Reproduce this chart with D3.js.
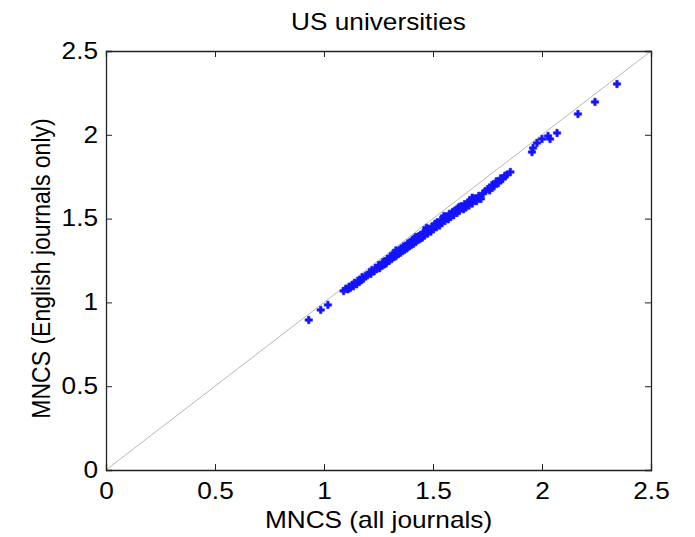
<!DOCTYPE html>
<html>
<head>
<meta charset="utf-8">
<script src="https://cdn.jsdelivr.net/npm/d3@7"></script>
<style>
  body { margin: 0; background: #fff; }
  text { font-family: "Liberation Sans", Arial, sans-serif; fill: #000; }
</style>
</head>
<body>
<div id="chart"></div>
<script>
var title = "US universities";
var xLabel = "MNCS (all journals)";
var yLabel = "MNCS (English journals only)";
var ticks = [0, 0.5, 1, 1.5, 2, 2.5];

// MNCS (all journals)
var mncsAll = [
  0.93, 0.985, 1.018,
  1.09, 1.10, 1.11, 1.115, 1.12, 1.13, 1.135, 1.14, 1.15, 1.155, 1.16, 1.17, 1.175, 1.18, 1.19,
  1.20, 1.21, 1.215, 1.22, 1.23, 1.235, 1.24, 1.25, 1.255, 1.26, 1.27, 1.275, 1.28, 1.285, 1.29,
  1.30, 1.305, 1.31, 1.315, 1.32, 1.325, 1.33, 1.335, 1.34, 1.345, 1.35, 1.355, 1.36, 1.365, 1.37,
  1.375, 1.38, 1.385, 1.39, 1.395, 1.40, 1.405, 1.41, 1.415, 1.42, 1.425, 1.43, 1.435, 1.44, 1.445,
  1.45, 1.455, 1.46, 1.47, 1.475, 1.48, 1.49, 1.495, 1.50, 1.51, 1.515, 1.52, 1.53, 1.535, 1.54,
  1.55, 1.555, 1.56, 1.57, 1.575, 1.58, 1.59, 1.595, 1.60, 1.61, 1.615, 1.62, 1.63, 1.64, 1.645,
  1.65, 1.66, 1.665, 1.67, 1.68, 1.69, 1.70, 1.71, 1.72, 1.73, 1.74, 1.75, 1.76, 1.77, 1.78, 1.79,
  1.80, 1.81, 1.82, 1.83, 1.84, 1.855,
  1.33, 1.42, 1.47, 1.55, 1.62, 1.68,
  1.954, 1.959, 1.977, 2.0, 2.028, 2.037, 2.069, 2.165, 2.243, 2.344
];

// MNCS (English journals only)
var mncsEng = [
  0.895, 0.955, 0.985,
  1.068, 1.082, 1.078, 1.094, 1.086, 1.104, 1.096, 1.116, 1.108, 1.128, 1.122, 1.132, 1.150, 1.140, 1.158,
  1.162, 1.180, 1.170, 1.192, 1.186, 1.204, 1.198, 1.222, 1.204, 1.216, 1.240, 1.226, 1.246, 1.232, 1.258,
  1.250, 1.276, 1.258, 1.284, 1.270, 1.290, 1.276, 1.302, 1.288, 1.312, 1.296, 1.322, 1.306, 1.334, 1.314,
  1.338, 1.322, 1.352, 1.334, 1.360, 1.342, 1.370, 1.350, 1.380, 1.360, 1.388, 1.372, 1.396, 1.378, 1.404,
  1.386, 1.416, 1.398, 1.430, 1.410, 1.440, 1.422, 1.452, 1.436, 1.470, 1.448, 1.478, 1.458, 1.490, 1.474,
  1.500, 1.486, 1.512, 1.496, 1.528, 1.510, 1.540, 1.520, 1.548, 1.534, 1.562, 1.546, 1.574, 1.556, 1.586,
  1.566, 1.596, 1.578, 1.608, 1.590, 1.620, 1.604, 1.636, 1.618, 1.650, 1.664, 1.676, 1.668, 1.700, 1.692, 1.722,
  1.712, 1.740, 1.736, 1.756, 1.762, 1.778,
  1.310, 1.390, 1.445, 1.515, 1.570, 1.625,
  1.897, 1.921, 1.951, 1.975, 1.993, 1.975, 2.011, 2.124, 2.196, 2.303
];

var margin = {top: 51, right: 44, bottom: 67, left: 106};
var width = 695 - margin.left - margin.right,
    height = 537 - margin.top - margin.bottom;

// the original figure is slightly stretched sideways
var stretch = "scale(1.14,1)";

var svg = d3.select("#chart")
    .append("svg")
    .attr("width", 695)
    .attr("height", 537)
    .append("g")
    .attr("transform", "translate(" + margin.left + "," + margin.top + ")");

var xScale = d3.scaleLinear().domain([0, 2.5]).range([0, width]);
var yScale = d3.scaleLinear().domain([0, 2.5]).range([height, 0]);

var fmt = function(d) { return d3.format("")(d); };

// ticks pointing inward, on all four sides
var xAxis = d3.axisBottom(xScale).tickValues(ticks).tickSize(-6).tickPadding(13).tickFormat(fmt);
var yAxis = d3.axisLeft(yScale).tickValues(ticks).tickSize(-6).tickPadding(7).tickFormat(fmt);
var xTop = d3.axisTop(xScale).tickValues(ticks).tickSize(-6).tickFormat("");
var yRight = d3.axisRight(yScale).tickValues(ticks).tickSize(-6).tickFormat("");

// diagonal y = x
svg.append("line")
    .attr("x1", xScale(0)).attr("y1", yScale(0))
    .attr("x2", xScale(2.5)).attr("y2", yScale(2.5))
    .attr("stroke", "#b8b8b8")
    .attr("stroke-width", 1);

var points = mncsAll.map(function(d, i) { return {x: d, y: mncsEng[i]}; });

svg.selectAll(".pt")
    .data(points)
    .enter().append("path")
    .attr("class", "pt")
    .attr("d", d3.symbol().type(d3.symbolCross).size(30))
    .attr("transform", function(d) { return "translate(" + xScale(d.x) + "," + yScale(d.y) + ")"; })
    .attr("fill", "#1414ff")
    .attr("stroke", "#1414ff")
    .attr("stroke-width", 0.6);

var axes = [
    svg.append("g").attr("transform", "translate(0," + height + ")").call(xAxis),
    svg.append("g").call(yAxis),
    svg.append("g").call(xTop),
    svg.append("g").attr("transform", "translate(" + width + ",0)").call(yRight)
];
axes.forEach(function(g) {
    g.select(".domain").attr("stroke", "#222").attr("stroke-width", 1.3);
    g.selectAll(".tick line").attr("stroke", "#222");
    g.selectAll("text")
        .style("font-size", "23px")
        .attr("font-family", null)
        .attr("transform", stretch);
});

svg.append("text")
    .attr("transform", "translate(" + (width / 2) + ",-21) " + stretch)
    .attr("text-anchor", "middle")
    .style("font-size", "23px")
    .text(title);

svg.append("text")
    .attr("transform", "translate(" + (width / 2) + "," + (height + 58) + ") " + stretch)
    .attr("text-anchor", "middle")
    .style("font-size", "23px")
    .text(xLabel);

svg.append("text")
    .attr("transform", "translate(-56," + (height / 2 + 8) + ") " + stretch + " rotate(-90)")
    .attr("text-anchor", "middle")
    .style("font-size", "23px")
    .text(yLabel);
</script>
</body>
</html>
